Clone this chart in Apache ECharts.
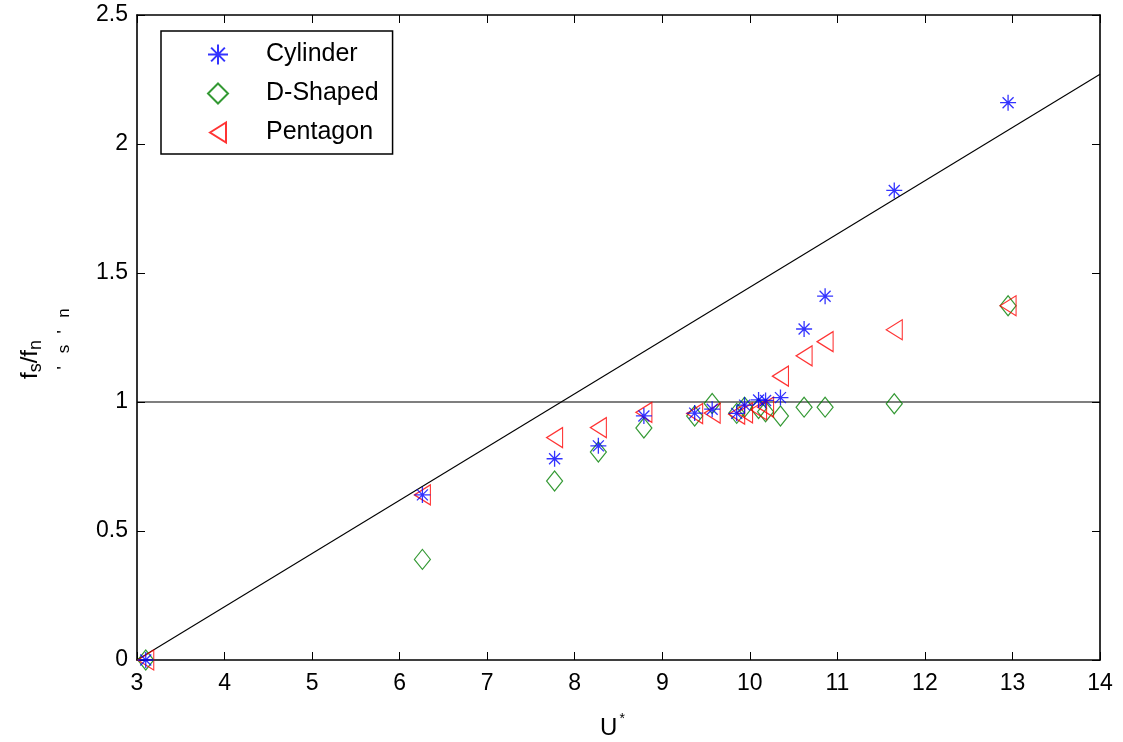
<!DOCTYPE html>
<html>
<head>
<meta charset="utf-8">
<script src="https://cdn.jsdelivr.net/npm/echarts@6/dist/echarts.min.js"></script>
<style>
  html, body { margin: 0; padding: 0; background: #fff; }
  #main { width: 1123px; height: 742px; }
</style>
</head>
<body>
<div id="main"></div>
<script>
// reduced velocity U*
const uStar = [3.1, 6.26, 7.77, 8.27, 8.79, 9.37, 9.57, 9.85, 9.94, 10.1, 10.18, 10.35, 10.62, 10.86, 11.65, 12.95];
// fs/fn for each body
const cylinder = [0, 0.64, 0.78, 0.83, 0.946, 0.957, 0.972, 0.956, 0.988, 1.008, 1.006, 1.017, 1.283, 1.41, 1.82, 2.16];
const dShaped = [0, 0.39, 0.694, 0.806, 0.899, 0.946, 0.994, 0.956, 0.98, 0.975, 0.962, 0.946, 0.98, 0.98, 0.993, 1.373];
const pentagon = [0, 0.64, 0.862, 0.901, 0.96, 0.955, 0.957, 0.953, 0.958, 0.97, 0.98, 1.10, 1.179, 1.234, 1.28, 1.373];
// reference lines
const diagLine = [[3, 0], [14, 2.27]];
const unityLine = [[3, 1], [14, 1]];

const FONT = 'Liberation Sans';
const chart = echarts.init(document.getElementById('main'));

const pairs = ys => uStar.map((u, i) => [u, ys[i]]);

const starPath = 'path://M8,0L8,16M0,8L16,8M2.5,2.5L13.5,13.5M2.5,13.5L13.5,2.5';
const triPath = 'path://M0,10L16,0L16,20Z';

// shared axis look (matlab-ish box, ticks inside)
const axisBase = {
  axisLine: { show: true, onZero: false, lineStyle: { color: '#000', width: 1.6 } },
  axisTick: { show: true, inside: true, length: 8, lineStyle: { color: '#000' } },
  splitLine: { show: false }
};

// stray glyphs next to the y label in the original export
const ghost = [["'", 368], ['s', 349], ["'", 332], ['n', 313]].map(([t, y]) => ({
  type: 'text', x: 64, y: y, rotation: Math.PI / 2,
  style: { text: t, fontSize: 17, fontFamily: FONT, fill: '#000', align: 'center', verticalAlign: 'middle' }
}));

const option = {
  animation: false,
  backgroundColor: '#fff',
  textStyle: { fontFamily: FONT },
  grid: { left: 137, right: 23, top: 15, bottom: 82, outerBoundsMode: 'none' },
  legend: {
    left: 161, top: 31,
    orient: 'vertical',
    backgroundColor: '#fff',
    borderColor: '#000', borderWidth: 1.5,
    padding: [11, 14, 9, 46],
    itemWidth: 20, itemHeight: 20, itemGap: 14,
    textStyle: { fontSize: 25, color: '#000', fontFamily: FONT, padding: [0, 0, 0, 33] },
    data: ['Cylinder', 'D-Shaped', 'Pentagon']
  },
  xAxis: [
    Object.assign({}, axisBase, {
      type: 'value', min: 3, max: 14, interval: 1,
      name: '{b|U}{sup|*}', nameLocation: 'middle', nameGap: 52,
      nameTextStyle: {
        padding: [0, 12, 0, 0],
        rich: {
          b: { fontSize: 24, fontFamily: FONT, color: '#000' },
          sup: { fontSize: 14, fontFamily: FONT, color: '#000', verticalAlign: 'bottom', padding: [0, 0, 18, 2] }
        }
      },
      axisLabel: { fontSize: 23, color: '#000', margin: 12 }
    }),
    Object.assign({}, axisBase, {
      type: 'value', min: 3, max: 14, interval: 1, position: 'top',
      axisLabel: { show: false }
    })
  ],
  yAxis: [
    Object.assign({}, axisBase, {
      type: 'value', min: 0, max: 2.5, interval: 0.5,
      name: '{b|f}{sub|s}{b|/f}{sub|n}', nameLocation: 'middle', nameGap: 92,
      nameTextStyle: {
        padding: [0, 44, 0, 0],
        rich: {
          b: { fontSize: 24, fontFamily: FONT, color: '#000' },
          sub: { fontSize: 18, fontFamily: FONT, color: '#000', padding: [12, 0, 0, 0] }
        }
      },
      axisLabel: { fontSize: 23, color: '#000', margin: 9 }
    }),
    Object.assign({}, axisBase, {
      type: 'value', min: 0, max: 2.5, interval: 0.5, position: 'right',
      axisLabel: { show: false }
    })
  ],
  graphic: ghost,
  series: [
    {
      type: 'line', data: diagLine, symbol: 'none', silent: true,
      lineStyle: { color: '#000', width: 1.1 }, z: 1
    },
    {
      type: 'line', data: unityLine, symbol: 'none', silent: true,
      lineStyle: { color: '#000', width: 1.1 }, z: 1
    },
    {
      name: 'Cylinder', type: 'scatter', data: pairs(cylinder),
      symbol: starPath, symbolSize: 16,
      itemStyle: { color: 'rgba(0,0,0,0)', borderColor: '#0000ff', borderWidth: 1.3 }, z: 3
    },
    {
      name: 'D-Shaped', type: 'scatter', data: pairs(dShaped),
      symbol: 'diamond', symbolSize: [16, 20],
      itemStyle: { color: 'rgba(0,0,0,0)', borderColor: '#008000', borderWidth: 1.2 }, z: 2
    },
    {
      name: 'Pentagon', type: 'scatter', data: pairs(pentagon),
      symbol: triPath, symbolSize: [16, 20],
      itemStyle: { color: 'rgba(0,0,0,0)', borderColor: '#ff0000', borderWidth: 1.2 }, z: 2
    }
  ]
};

chart.setOption(option);
</script>
</body>
</html>
